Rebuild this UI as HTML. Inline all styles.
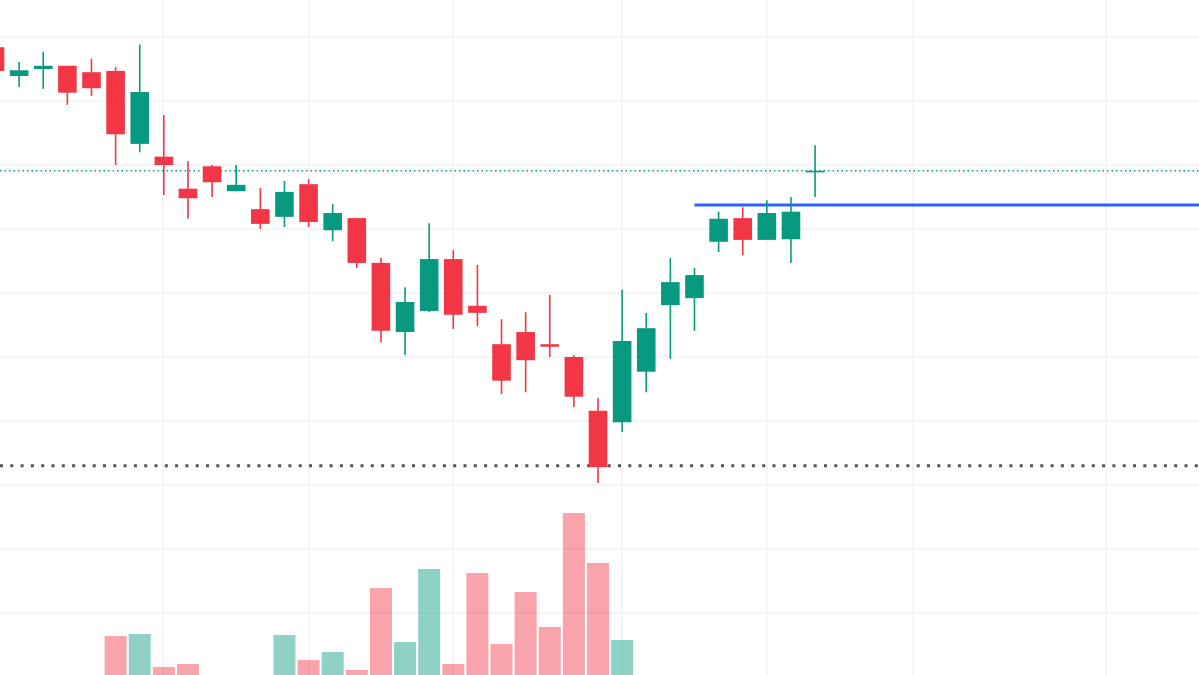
<!DOCTYPE html>
<html><head><meta charset="utf-8"><style>
html,body{margin:0;padding:0;background:#fff;}
svg{display:block;font-family:"Liberation Sans",sans-serif;}
</style></head><body>
<svg id="chart" width="1199" height="675" viewBox="0 0 1199 675" xmlns="http://www.w3.org/2000/svg">
<g id="grid"></g>
<g id="volume"></g>
<g id="lines"></g>
<g id="candles"></g>
</svg>
<script>
const opens  = [68.4,63.9,65.0,65.5,64.5,64.7,53.3,51.3,46.3,49.8,45.9,43.1,41.9,47.0,39.8,41.7,34.7,23.9,27.2,35.3,28.0,22.0,23.9,22.0,20.0,11.6,9.8,17.7,28.1,29.2,38.0,41.7,38.3,38.4,49.0];
const highs  = [68.4,66.1,67.7,65.5,66.6,65.3,68.8,57.8,50.6,50.0,50.0,46.4,47.5,47.8,43.9,41.7,35.5,30.9,40.9,36.7,34.4,25.9,27.0,29.7,20.3,13.6,30.5,26.9,35.5,33.9,42.7,43.4,44.5,45.0,53.1];
const lows   = [64.7,62.2,61.9,59.4,60.8,50.0,52.0,45.3,41.6,45.0,45.9,40.0,40.3,40.3,38.1,33.9,22.3,20.3,27.0,24.4,24.8,14.2,14.5,20.0,12.2,0.3,8.3,14.5,19.7,24.1,36.4,35.9,38.3,34.7,45.0];
const closes = [64.7,64.8,65.5,61.3,62.0,54.8,61.4,50.0,44.8,47.3,46.9,40.8,45.8,41.1,42.5,34.7,24.1,28.6,35.3,26.6,26.9,16.3,19.5,21.6,13.8,2.8,22.5,24.5,31.7,32.8,41.6,38.3,42.5,42.7,49.1];
const volumes = [0,0,0,0,0,39,41,8,11,0,0,0,40,15,23,5,87,33,106,11,102,31,83,48,162,112,35,0,0,0,0,0,0,0,0];
const lastPrice = 49.1;
const resistance = 43.75;
const supportLow = 3.0;
const resistanceStartIndex = 29;

const NS='http://www.w3.org/2000/svg';
const W=1199,H=675;
const x0=-5, step=24.12;
function xScale(i){return x0+i*step;}
function yScale(p){return 485-6.4*p;}
function vScale(v){return 675-v;}
function mk(tag,attrs,parent){const e=document.createElementNS(NS,tag);for(const k in attrs)e.setAttribute(k,attrs[k]);parent.appendChild(e);return e;}
const grid=document.getElementById('grid');
for(let gy=37;gy<=680;gy+=64){
  const l=mk('line',{x1:0,x2:W,y1:gy,y2:gy,stroke:'#f0f2f5','stroke-width':1.5},grid);
  
  
}
[163,309,453,622,767,913,1106].forEach(gx=>{
  const l=mk('line',{x1:gx,x2:gx,y1:0,y2:H,stroke:'#f0f2f5','stroke-width':1.5},grid);
  
  
});
const vol=document.getElementById('volume');
volumes.forEach((v,i)=>{
  if(v<=0)return;
  const up=closes[i]>=opens[i];
  const r=mk('rect',{x:xScale(i)-11,y:vScale(v),width:22,height:v,fill:up?'rgba(8,153,129,0.45)':'rgba(242,54,69,0.45)'},vol);
  
  
});
const lines=document.getElementById('lines');
let l1=mk('line',{x1:0,x2:W,y1:yScale(lastPrice),y2:yScale(lastPrice),stroke:'#089981','stroke-width':1.5,'stroke-dasharray':'1.5 3'},lines);


let l2=mk('line',{x1:xScale(resistanceStartIndex),x2:W,y1:yScale(resistance),y2:yScale(resistance),stroke:'#2962ff','stroke-width':3},lines);


let l3=mk('line',{x1:0,x2:W,y1:yScale(supportLow),y2:yScale(supportLow),stroke:'#50535e','stroke-width':3,'stroke-dasharray':'3 7.3'},lines);


const cg=document.getElementById('candles');
opens.forEach((o,i)=>{
  const c=closes[i],up=c>=o,col=up?'#089981':'#f23645',cx=xScale(i);
  const g=mk('g',{},cg);
  
  
  mk('line',{x1:cx,x2:cx,y1:yScale(highs[i]),y2:yScale(lows[i]),stroke:col,'stroke-width':1.6},g);
  const top=yScale(Math.max(o,c)),bot=yScale(Math.min(o,c));
  mk('rect',{x:cx-9.3,y:top,width:18.6,height:Math.max(1.6,bot-top),fill:col},g);
});
</script>
</body></html>
